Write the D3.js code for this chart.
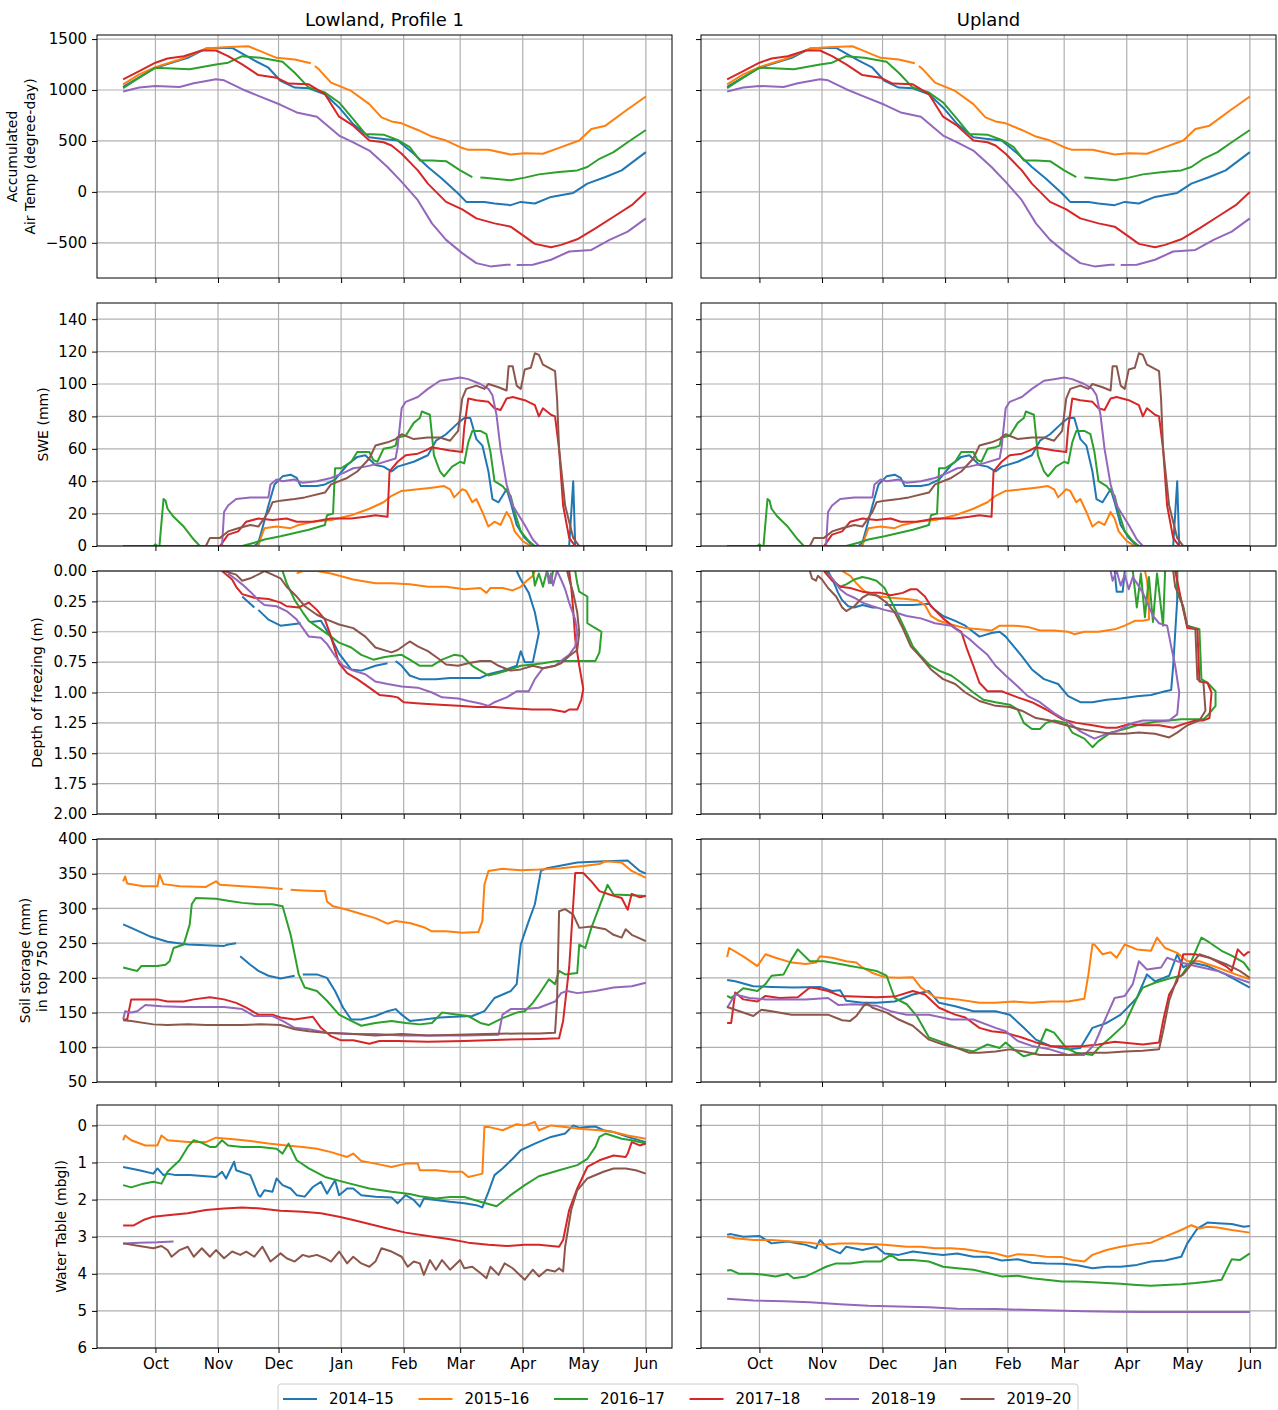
<!DOCTYPE html>
<meta charset="utf-8">
<script src="https://d3js.org/d3.v7.min.js"></script>
<style>
  body { margin: 0; background: #fff; }
  text { font-family: "DejaVu Sans", sans-serif; }
</style>
<div id="chart"></div>
<script>
// seasons and their colours (matplotlib tab10)
var seasons = ["2014–15", "2015–16", "2016–17", "2017–18", "2018–19", "2019–20"];
var colors = ["#1f77b4", "#ff7f0e", "#2ca02c", "#d62728", "#9467bd", "#8c564b"];
var columnTitles = ["Lowland, Profile 1", "Upland"];

// every series: [days after 15 Sep, value]; null value = gap in record
// accumulated air temperature (same at both sites)
var airT_1415 = [[0,1030],[16,1219],[32,1316],[41,1407],[54,1414],[65,1290],[72,1219],[78,1089],[85,1024],[92,1017],[100,959],[107,829],[114,666],[122,536],[129,520],[136,504],[144,374],[151,244],[158,130],[166,-16],[170,-98],[179,-98],[184,-114],[192,-130],[197,-98],[204,-114],[212,-49],[223,-10],[230,81],[239,146],[247,211],[259,390]];
var airT_1516 = [[0,1056],[8,1154],[16,1225],[28,1300],[41,1407],[50,1420],[62,1430],[68,1381],[76,1316],[85,1300],[93,1262],[94,null],[95,1235],[97,1203],[103,1073],[113,991],[122,861],[128,731],[133,692],[138,673],[146,608],[153,543],[160,504],[167,439],[171,413],[181,413],[192,367],[199,380],[208,374],[217,439],[226,504],[232,618],[239,650],[249,796],[259,936]];
var airT_1617 = [[0,1017],[8,1121],[16,1219],[33,1203],[46,1251],[52,1268],[59,1332],[68,1316],[79,1277],[85,1170],[92,1024],[100,975],[107,878],[114,715],[120,569],[129,562],[136,510],[142,439],[147,309],[153,309],[160,302],[167,211],[173,146],[174,null],[177,141],[179,140],[184,130],[192,114],[199,140],[206,172],[216,195],[225,211],[230,244],[236,325],[243,390],[250,487],[259,608]];
var airT_1718 = [[0,1105],[8,1186],[16,1268],[22,1310],[30,1332],[39,1388],[46,1388],[52,1332],[59,1251],[67,1147],[76,1121],[82,1063],[92,1056],[100,959],[107,738],[114,650],[122,504],[129,487],[133,455],[138,374],[146,211],[151,81],[160,-98],[168,-172],[175,-260],[184,-309],[192,-341],[199,-439],[204,-510],[212,-543],[217,-520],[225,-465],[234,-358],[243,-244],[252,-130],[259,0]];
var airT_1819 = [[0,985],[8,1024],[16,1040],[28,1030],[35,1066],[46,1105],[50,1095],[59,1008],[67,943],[78,855],[86,780],[96,738],[107,553],[114,487],[122,406],[131,244],[138,98],[146,-81],[153,-309],[160,-471],[168,-601],[175,-699],[182,-731],[190,-715],[192,-715],[193,null],[195,-717],[203,-715],[212,-666],[221,-585],[232,-569],[241,-471],[250,-390],[259,-260]];

// snow water equivalent (same at both sites)
var swe_1415 = [[0,0],[65,0],[67,2],[69,11],[72,25],[75,38],[79,43],[83,44],[86,42],[88,37],[96,37],[100,38],[105,41],[111,50],[116,55],[120,56],[125,50],[129,49],[133,46],[136,49],[144,52],[151,56],[155,65],[160,69],[166,76],[169,79],[172,79],[175,66],[178,62],[181,46],[183,29],[186,27],[188,31],[190,35],[192,27],[195,13],[199,5],[203,0],[221,0],[223,40],[224,0],[259,0]];
var swe_1516 = [[0,0],[67,0],[68,4],[70,11],[76,12],[83,11],[87,13],[94,15],[103,16],[113,19],[122,23],[129,27],[133,31],[138,34],[146,35],[153,36],[159,37],[162,35],[164,30],[168,35],[170,34],[173,27],[175,29],[178,21],[181,12],[184,15],[187,13],[190,21],[192,17],[194,9],[198,3],[202,0],[259,0]];
var swe_1617 = [[0,0],[15,0],[16,1],[17,0],[18,0],[20,29],[21,28],[22,23],[25,18],[30,12],[35,4],[38,0],[59,0],[65,2],[70,4],[78,6],[85,8],[92,10],[100,13],[101,19],[104,20],[105,48],[108,48],[113,52],[116,58],[122,58],[124,53],[126,52],[129,60],[133,61],[135,62],[136,67],[140,68],[144,76],[147,79],[148,83],[152,81],[154,56],[157,46],[159,43],[163,49],[167,52],[169,51],[171,64],[173,71],[177,71],[180,69],[182,58],[184,40],[188,37],[192,31],[194,21],[197,9],[201,3],[204,0],[259,0]];
var swe_1718 = [[0,0],[48,0],[52,7],[57,9],[61,15],[67,17],[74,16],[81,17],[86,15],[94,15],[103,17],[113,17],[120,18],[125,19],[131,18],[132,46],[136,52],[140,56],[146,57],[150,59],[153,61],[157,60],[162,59],[168,58],[169,73],[171,91],[175,90],[181,89],[184,85],[187,84],[190,91],[193,92],[199,90],[204,87],[206,80],[208,85],[212,81],[214,80],[216,60],[218,25],[221,5],[224,0],[259,0]];
var swe_1819 = [[0,0],[49,0],[50,21],[52,25],[56,29],[63,30],[72,30],[73,38],[76,41],[79,40],[85,41],[89,39],[96,40],[103,42],[109,45],[114,48],[120,49],[127,51],[135,54],[136,61],[138,85],[140,89],[146,92],[151,97],[157,102],[162,103],[167,104],[171,103],[177,100],[181,97],[183,93],[185,81],[187,60],[190,38],[193,25],[199,13],[203,4],[206,0],[259,0]];
var swe_1920 = [[0,0],[41,0],[43,5],[48,5],[52,9],[57,11],[63,13],[67,12],[72,21],[74,27],[78,28],[85,29],[90,30],[100,33],[103,38],[111,42],[116,46],[122,54],[125,62],[131,64],[135,66],[138,69],[144,66],[151,67],[157,67],[162,65],[166,71],[168,91],[170,97],[175,99],[179,97],[181,100],[186,98],[190,96],[191,111],[193,111],[195,99],[197,97],[199,109],[202,110],[204,119],[206,118],[208,112],[214,108],[215,91],[216,60],[219,25],[223,5],[226,0],[259,0]];

// depth of freezing, lowland (m)
var frostLow_1415 = [[59,0.21],[65,0.30],[66,null],[67,0.32],[72,0.40],[78,0.45],[83,0.44],[88,0.43],[90,null],[93,0.42],[98,0.41],[103,0.55],[107,0.68],[113,0.81],[118,0.82],[125,0.78],[131,0.76],[133,null],[135,0.74],[138,0.78],[142,0.86],[147,0.89],[155,0.89],[162,0.88],[169,0.88],[177,0.88],[181,0.85],[188,0.82],[195,0.78],[197,0.66],[199,0.75],[203,0.75],[206,0.51],[204,0.34],[201,0.18],[197,0.07],[195,0]];
var frostLow_1516 = [[86,0.02],[89,0],[96,0],[103,0.02],[114,0.07],[125,0.10],[133,0.10],[142,0.11],[151,0.13],[160,0.13],[169,0.15],[177,0.14],[180,0.18],[182,0.14],[188,0.14],[193,0.16],[197,0.13],[200,0.08],[203,0.04],[204,0]];
var frostLow_1617 = [[79,0],[81,0.10],[85,0.24],[89,0.34],[92,0.41],[98,0.48],[103,0.54],[107,0.59],[113,0.63],[118,0.69],[124,0.73],[129,0.71],[133,0.70],[138,0.69],[142,0.73],[147,0.78],[153,0.78],[158,0.73],[164,0.69],[168,0.70],[173,0.78],[179,0.84],[181,0.86],[186,0.84],[192,0.81],[197,0.78],[203,0.77],[208,0.76],[215,0.74],[225,0.74],[234,0.74],[236,0.67],[237,0.50],[234,0.47],[230,0.43],[230,0.21],[226,0.17],[225,0.10],[224,0],[224,null],[203,0],[204,0.12],[206,0.02],[208,0.13],[210,0],[212,0.10],[213,0]];
var frostLow_1718 = [[49,0],[54,0.07],[56,0.13],[59,0.19],[65,0.22],[72,0.23],[78,0.26],[81,0.29],[87,0.30],[92,0.26],[96,0.32],[100,0.40],[103,0.54],[107,0.76],[111,0.84],[116,0.89],[122,0.96],[127,1.02],[133,1.03],[136,1.04],[139,1.08],[147,1.09],[157,1.10],[166,1.11],[175,1.12],[184,1.12],[192,1.13],[203,1.14],[212,1.14],[219,1.16],[221,1.14],[225,1.14],[227,1.06],[228,0.97],[226,0.78],[224,0.56],[223,0.32],[222,0.13],[221,0]];
var frostLow_1819 = [[52,0.02],[56,0.07],[59,0.11],[63,0.17],[67,0.24],[70,0.28],[76,0.29],[81,0.33],[86,0.40],[92,0.54],[98,0.55],[101,0.60],[105,0.70],[109,0.78],[114,0.82],[120,0.85],[125,0.91],[131,0.93],[138,0.95],[146,0.96],[153,1.00],[158,1.04],[166,1.05],[171,1.07],[177,1.09],[181,1.11],[184,1.08],[190,1.04],[195,0.99],[201,0.99],[204,0.89],[208,0.80],[214,0.78],[217,0.74],[221,0.69],[224,0.62],[225,0.51],[224,0.40],[221,0.26],[219,0.15],[217,0.07],[215,0],[213,0.12],[212,0.02],[211,0.10],[210,0]];
var frostLow_1920 = [[50,0],[56,0.03],[59,0.08],[63,0.06],[68,0.02],[70,0],[74,0.03],[78,0.06],[81,0.13],[86,0.21],[90,0.29],[96,0.36],[101,0.40],[107,0.44],[114,0.47],[120,0.54],[125,0.63],[133,0.67],[136,0.65],[142,0.58],[146,0.62],[151,0.66],[157,0.73],[160,0.77],[166,0.78],[171,0.76],[177,0.74],[182,0.74],[186,0.78],[192,0.82],[197,0.81],[203,0.78],[208,0.80],[214,0.78],[217,0.76],[221,0.70],[225,0.65],[226,0.51],[225,0.34],[223,0.18],[221,0.07],[220,0]];

// depth of freezing, upland (m)
var frostUp_1415 = [[50,0],[53,0.10],[55,0.18],[57,0.24],[60,0.29],[63,0.30],[67,0.28],[72,0.30],[74,0.30],[75,null],[78,0.28],[85,0.28],[92,0.28],[100,0.27],[103,0.32],[107,0.37],[113,0.41],[118,0.45],[125,0.54],[131,0.51],[135,0.50],[138,0.54],[142,0.62],[146,0.70],[151,0.81],[157,0.89],[164,0.93],[169,1.03],[175,1.08],[181,1.08],[188,1.06],[195,1.05],[203,1.03],[210,1.02],[217,0.99],[220,0.98],[221,0.78],[222,0.51],[223,0.24],[223,0],[223,null],[192,0],[193,0.17],[196,0.17],[197,0]];
var frostUp_1516 = [[57,0],[61,0.04],[64,0.10],[67,0.15],[70,0.19],[76,0.21],[81,0.22],[89,0.23],[94,0.24],[98,0.28],[101,0.37],[105,0.41],[111,0.44],[118,0.47],[125,0.48],[131,0.49],[135,0.45],[142,0.45],[149,0.46],[155,0.49],[162,0.49],[169,0.50],[172,0.52],[177,0.50],[184,0.50],[192,0.48],[197,0.45],[202,0.41],[206,0.41],[209,0.40],[209,0.24],[208,0.07],[207,0]];
var frostUp_1617 = [[49,0],[52,0.07],[56,0.13],[59,0.11],[63,0.07],[67,0.05],[70,0.06],[74,0.08],[78,0.14],[81,0.24],[85,0.37],[89,0.51],[92,0.62],[96,0.70],[100,0.77],[105,0.82],[111,0.86],[116,0.92],[122,1.00],[127,1.06],[133,1.08],[140,1.10],[144,1.14],[147,1.25],[151,1.30],[155,1.30],[158,1.25],[162,1.23],[168,1.25],[171,1.33],[177,1.38],[181,1.45],[184,1.40],[190,1.33],[197,1.30],[203,1.27],[212,1.24],[219,1.23],[225,1.22],[230,1.22],[236,1.22],[238,1.19],[242,1.11],[242,0.99],[238,0.92],[235,0.89],[234,0.48],[228,0.45],[226,0.29],[223,0.18],[223,0],[223,null],[201,0],[203,0.30],[205,0.02],[207,0.38],[209,0.05],[211,0.42],[213,0.02],[216,0.45],[217,0]];
var frostUp_1718 = [[48,0],[52,0.08],[56,0.13],[61,0.14],[67,0.17],[72,0.18],[76,0.18],[81,0.20],[87,0.18],[91,0.15],[94,0.15],[98,0.21],[101,0.29],[107,0.39],[113,0.47],[116,0.50],[119,0.65],[122,0.78],[125,0.92],[129,0.99],[136,0.99],[144,1.04],[151,1.08],[158,1.14],[166,1.22],[173,1.25],[181,1.27],[188,1.29],[193,1.29],[199,1.26],[206,1.27],[214,1.27],[221,1.29],[226,1.26],[232,1.23],[236,1.23],[239,1.21],[240,1.00],[238,0.92],[234,0.91],[233,0.48],[228,0.47],[225,0.24],[222,0]];
var frostUp_1819 = [[50,0.02],[53,0.08],[56,0.15],[59,0.19],[63,0.22],[67,0.26],[72,0.29],[78,0.32],[83,0.34],[89,0.37],[96,0.39],[103,0.43],[111,0.45],[116,0.51],[120,0.56],[124,0.62],[129,0.69],[133,0.78],[138,0.86],[144,0.95],[149,1.03],[155,1.08],[162,1.17],[168,1.23],[175,1.32],[182,1.38],[188,1.34],[193,1.32],[201,1.25],[206,1.23],[214,1.23],[219,1.23],[223,1.18],[224,1.00],[222,0.78],[220,0.62],[218,0.45],[214,0.43],[211,0.37],[206,0.18],[203,0.10],[201,0.05],[199,0.15],[197,0.03],[195,0.12],[193,0],[191,0.08],[190,0]];
var frostUp_1920 = [[41,0],[42,0.06],[44,0.08],[45,0.04],[47,0.07],[50,0.14],[54,0.21],[57,0.30],[59,0.33],[63,0.29],[67,0.22],[70,0.19],[74,0.20],[79,0.26],[83,0.34],[87,0.47],[91,0.62],[96,0.71],[101,0.81],[107,0.89],[113,0.93],[118,1.00],[125,1.07],[133,1.11],[140,1.12],[146,1.15],[153,1.21],[160,1.23],[168,1.27],[175,1.30],[182,1.32],[190,1.34],[197,1.34],[204,1.33],[212,1.34],[219,1.37],[223,1.33],[228,1.27],[234,1.23],[237,1.15],[236,0.92],[233,0.89],[232,0.48],[228,0.45],[225,0.24],[222,0.13],[221,0]];

// soil storage in top 750 mm, lowland (mm)
var soilLow_1415 = [[0,277],[4,272],[13,260],[22,252],[32,248],[41,247],[50,246],[52,248],[56,250],[57,null],[58,231],[63,219],[67,210],[72,203],[78,199],[85,203],[87,null],[89,205],[96,205],[101,200],[105,181],[109,157],[113,140],[118,140],[125,145],[131,152],[135,155],[138,147],[142,138],[149,140],[157,143],[164,144],[173,145],[179,152],[184,171],[192,181],[195,191],[197,248],[201,282],[204,306],[207,354],[210,358],[225,366],[239,368],[250,369],[256,354],[259,350]];
var soilLow_1516 = [[0,339],[1,346],[2,336],[10,332],[17,332],[18,349],[20,335],[28,332],[41,331],[46,339],[48,334],[59,332],[70,330],[79,328],[81,null],[83,327],[89,326],[96,325],[100,325],[101,310],[104,303],[111,298],[118,292],[125,286],[131,278],[135,282],[142,279],[149,273],[153,267],[160,267],[168,265],[176,266],[178,282],[179,334],[181,354],[188,357],[197,355],[206,356],[217,358],[228,361],[236,364],[239,368],[247,366],[252,354],[259,344]];
var soilLow_1617 = [[0,215],[4,212],[7,210],[9,217],[17,217],[21,219],[23,224],[25,243],[30,248],[33,277],[34,306],[36,315],[46,314],[52,311],[59,308],[67,306],[74,306],[79,303],[83,262],[87,205],[90,186],[96,181],[101,167],[107,147],[113,138],[118,131],[125,135],[133,138],[140,135],[147,133],[153,135],[158,150],[166,147],[171,145],[177,135],[181,132],[188,142],[195,150],[199,152],[203,164],[206,176],[211,198],[214,191],[216,210],[219,205],[225,207],[226,248],[229,243],[232,272],[236,303],[240,334],[243,320],[252,319],[259,318]];
var soilLow_1718 = [[0,140],[2,140],[4,169],[17,169],[22,166],[30,166],[35,169],[43,172],[50,169],[56,164],[61,157],[67,147],[74,147],[78,143],[85,140],[94,144],[98,128],[103,116],[108,110],[114,110],[122,105],[127,109],[136,109],[151,108],[169,109],[188,111],[206,112],[216,113],[218,138],[221,215],[224,351],[228,351],[232,339],[236,325],[241,320],[247,315],[250,298],[252,321],[256,316],[259,318]];
var soilLow_1819 = [[0,140],[1,152],[4,150],[7,152],[11,161],[19,159],[30,158],[41,158],[50,158],[59,155],[65,145],[74,145],[79,138],[85,128],[92,126],[101,121],[114,119],[125,119],[138,117],[151,117],[169,117],[186,118],[188,147],[192,155],[199,155],[206,157],[214,166],[217,178],[220,181],[225,178],[234,181],[243,186],[252,188],[259,193]];
var soilLow_1920 = [[0,139],[4,138],[15,133],[22,132],[32,133],[41,132],[50,132],[59,132],[68,133],[78,132],[85,126],[92,123],[100,121],[114,119],[125,117],[138,119],[151,117],[166,118],[179,119],[197,120],[206,120],[214,121],[215,167],[216,296],[219,299],[223,291],[226,272],[232,274],[239,270],[243,262],[247,258],[249,270],[252,262],[259,253]];

// soil storage in top 750 mm, upland (mm)
var soilUp_1415 = [[0,197],[4,195],[13,188],[22,187],[33,186],[46,187],[52,181],[56,182],[59,167],[67,164],[74,164],[83,166],[92,176],[100,181],[105,164],[113,159],[122,152],[133,152],[140,147],[147,128],[153,111],[160,102],[169,97],[175,99],[181,128],[188,135],[195,147],[203,171],[208,205],[212,195],[219,203],[223,234],[226,215],[230,222],[238,217],[247,205],[259,186]];
var soilUp_1516 = [[0,230],[1,243],[8,231],[15,217],[19,234],[24,229],[32,222],[39,220],[44,222],[46,231],[52,229],[59,224],[64,222],[67,215],[72,207],[78,201],[85,200],[92,201],[96,186],[103,172],[114,169],[125,164],[133,164],[142,166],[151,164],[160,166],[169,166],[177,170],[179,205],[181,248],[182,248],[186,234],[190,237],[193,229],[197,248],[203,241],[210,239],[213,258],[217,243],[223,236],[228,224],[234,224],[243,215],[252,205],[259,198]];
var soilUp_1617 = [[0,174],[2,171],[8,185],[15,181],[19,191],[22,203],[28,205],[32,227],[35,241],[41,224],[48,224],[56,220],[61,217],[67,214],[74,210],[79,203],[83,171],[89,162],[94,145],[100,114],[107,107],[114,99],[122,94],[129,104],[135,99],[138,107],[142,97],[147,87],[153,92],[158,126],[162,121],[168,99],[173,92],[181,89],[184,99],[190,114],[197,133],[203,171],[206,186],[212,193],[219,199],[225,203],[230,224],[235,258],[239,251],[245,239],[250,232],[256,222],[259,210]];
var soilUp_1718 = [[0,135],[2,135],[4,179],[8,169],[15,166],[19,174],[26,171],[35,172],[41,186],[44,185],[50,181],[56,174],[63,173],[74,172],[83,173],[92,181],[98,176],[105,157],[113,147],[118,143],[125,128],[131,123],[138,121],[146,114],[153,107],[160,102],[169,101],[177,102],[184,104],[192,108],[206,104],[214,107],[216,138],[219,176],[223,195],[226,234],[232,234],[239,229],[247,217],[250,210],[253,241],[256,232],[258,237],[259,237]];
var soilUp_1819 = [[0,157],[4,176],[11,171],[19,169],[28,169],[39,169],[50,171],[55,161],[63,162],[74,160],[81,152],[89,147],[100,147],[111,140],[122,140],[133,128],[138,123],[144,109],[151,102],[160,97],[169,89],[177,89],[182,104],[188,145],[192,171],[197,174],[201,191],[204,224],[208,212],[215,215],[218,229],[225,222],[232,217],[243,210],[252,200],[259,193]];
var soilUp_1920 = [[0,158],[4,154],[13,145],[17,154],[22,152],[32,147],[41,147],[50,147],[57,139],[61,138],[64,145],[67,157],[69,164],[72,157],[79,150],[85,140],[92,131],[100,111],[107,104],[114,99],[120,92],[125,92],[133,94],[140,97],[147,94],[155,89],[162,89],[169,89],[179,92],[188,92],[197,94],[206,95],[214,97],[216,123],[219,167],[223,200],[226,205],[234,234],[239,229],[247,220],[254,210],[259,200]];

// water table, lowland (m below ground)
var wtLow_1415 = [[0,1.12],[8,1.21],[15,1.30],[17,1.16],[20,1.34],[22,1.30],[26,1.34],[33,1.34],[41,1.37],[46,1.39],[49,1.25],[51,1.43],[55,0.98],[56,1.21],[63,1.34],[67,1.88],[68,1.92],[70,1.75],[74,1.79],[76,1.43],[79,1.61],[83,1.70],[86,1.88],[90,1.92],[94,1.66],[98,1.52],[101,1.84],[105,1.48],[107,1.88],[111,1.70],[114,1.70],[118,1.88],[125,1.92],[133,1.94],[136,2.10],[140,1.88],[144,2.01],[147,2.19],[149,1.97],[155,2.01],[162,2.06],[169,2.10],[175,2.15],[178,2.21],[181,1.79],[184,1.34],[188,1.16],[193,0.90],[197,0.67],[204,0.49],[212,0.31],[219,0.22],[223,0.0],[226,0.06],[230,0.04],[234,0.03],[238,0.13],[243,0.18],[250,0.31],[259,0.45]];
var wtLow_1516 = [[0,0.40],[1,0.27],[4,0.40],[11,0.54],[17,0.54],[19,0.27],[22,0.40],[32,0.45],[41,0.45],[46,0.33],[56,0.38],[63,0.42],[72,0.49],[81,0.54],[89,0.58],[96,0.63],[103,0.72],[111,0.85],[114,0.76],[118,0.96],[125,1.03],[133,1.12],[140,1.03],[146,1.03],[147,1.21],[155,1.21],[162,1.25],[168,1.25],[171,1.39],[175,1.34],[178,1.30],[179,0.04],[181,0.04],[188,0.13],[195,-0.03],[199,0.0],[204,-0.09],[206,0.13],[212,0.0],[219,0.04],[226,0.09],[236,0.13],[243,0.18],[250,0.27],[259,0.36]];
var wtLow_1617 = [[0,1.61],[4,1.67],[10,1.57],[15,1.52],[19,1.57],[22,1.25],[28,0.94],[32,0.58],[35,0.40],[39,0.47],[43,0.58],[46,0.58],[49,0.40],[52,0.54],[59,0.58],[68,0.58],[76,0.63],[79,0.76],[82,0.49],[86,0.94],[92,1.16],[100,1.39],[111,1.55],[122,1.70],[133,1.79],[142,1.85],[147,1.91],[155,1.97],[162,1.93],[169,1.93],[177,2.06],[185,2.18],[192,1.88],[199,1.61],[206,1.37],[216,1.21],[225,1.07],[230,0.90],[234,0.58],[236,0.31],[239,0.22],[247,0.36],[252,0.40],[259,0.49]];
var wtLow_1718 = [[0,2.70],[5,2.70],[10,2.55],[15,2.46],[22,2.42],[32,2.37],[41,2.28],[50,2.24],[59,2.21],[68,2.24],[78,2.30],[89,2.33],[98,2.37],[107,2.46],[114,2.55],[122,2.66],[131,2.78],[140,2.89],[151,2.98],[162,3.07],[171,3.16],[181,3.22],[190,3.25],[199,3.22],[206,3.22],[216,3.27],[218,3.09],[221,2.28],[225,1.70],[230,1.12],[236,0.94],[243,0.81],[249,0.85],[250,0.76],[252,0.45],[256,0.54],[259,0.49]];
var wtLow_1819 = [[0,3.18],[8,3.16],[17,3.15],[25,3.13]];
var wtLow_1920 = [[0,3.18],[8,3.25],[15,3.31],[19,3.25],[22,3.36],[24,3.54],[28,3.36],[32,3.27],[35,3.54],[39,3.31],[43,3.54],[46,3.36],[50,3.58],[54,3.40],[58,3.49],[61,3.40],[65,3.54],[69,3.27],[73,3.67],[78,3.45],[81,3.58],[85,3.67],[89,3.49],[92,3.54],[96,3.49],[100,3.58],[103,3.67],[107,3.40],[111,3.72],[114,3.54],[118,3.72],[122,3.81],[125,3.67],[128,3.31],[133,3.40],[138,3.54],[141,3.81],[144,3.67],[147,3.72],[149,4.03],[152,3.63],[155,3.89],[158,3.63],[162,3.89],[167,3.63],[169,3.85],[173,3.81],[177,3.98],[180,4.12],[182,3.81],[186,4.03],[189,3.72],[193,3.85],[199,4.16],[203,3.89],[206,4.07],[210,3.89],[214,3.94],[216,3.85],[218,3.94],[219,3.27],[222,2.28],[225,1.75],[230,1.43],[238,1.25],[243,1.16],[249,1.16],[254,1.21],[259,1.30]];

// water table, upland (m below ground)
var wtUp_1415 = [[0,2.95],[2,2.93],[8,3.0],[16,2.98],[22,3.18],[30,3.13],[39,3.22],[44,3.31],[46,3.09],[50,3.31],[56,3.45],[59,3.27],[67,3.36],[74,3.27],[78,3.45],[85,3.49],[92,3.40],[100,3.45],[107,3.49],[114,3.45],[122,3.54],[129,3.54],[136,3.64],[144,3.61],[151,3.70],[158,3.72],[166,3.73],[173,3.76],[181,3.85],[188,3.81],[195,3.81],[203,3.76],[210,3.67],[217,3.64],[225,3.54],[228,3.18],[233,2.78],[238,2.62],[243,2.64],[250,2.66],[256,2.73],[259,2.71]];
var wtUp_1516 = [[0,3.0],[4,3.04],[13,3.09],[22,3.09],[32,3.13],[41,3.16],[48,3.22],[56,3.18],[63,3.18],[70,3.20],[78,3.22],[89,3.27],[96,3.27],[103,3.31],[111,3.31],[118,3.34],[125,3.40],[133,3.45],[139,3.54],[144,3.47],[151,3.49],[158,3.54],[166,3.55],[171,3.63],[177,3.67],[181,3.49],[188,3.36],[195,3.27],[203,3.20],[210,3.16],[217,3.0],[225,2.82],[230,2.69],[234,2.78],[238,2.73],[243,2.75],[250,2.82],[259,2.89]];
var wtUp_1617 = [[0,3.91],[2,3.90],[6,4.0],[13,4.0],[19,4.03],[24,4.07],[30,4.0],[33,4.12],[39,4.07],[44,3.94],[49,3.81],[54,3.72],[61,3.72],[68,3.67],[76,3.67],[81,3.49],[85,3.63],[92,3.63],[100,3.67],[107,3.81],[114,3.85],[122,3.89],[129,3.98],[136,4.07],[144,4.05],[151,4.12],[158,4.16],[166,4.21],[173,4.21],[181,4.23],[188,4.25],[195,4.27],[203,4.30],[210,4.32],[217,4.30],[225,4.28],[232,4.25],[239,4.21],[245,4.16],[250,3.61],[254,3.63],[259,3.45]];
var wtUp_1819 = [[0,4.67],[13,4.72],[28,4.74],[41,4.77],[56,4.82],[70,4.86],[85,4.88],[100,4.90],[114,4.94],[133,4.95],[147,4.97],[162,4.99],[177,5.01],[192,5.02],[206,5.03],[225,5.03],[243,5.03],[259,5.03]];

// y tick labels per row
var airTicks = [-500, 0, 500, 1000, 1500];
var sweTicks = [0, 20, 40, 60, 80, 100, 120, 140];
var frostTicks = [0, 0.25, 0.5, 0.75, 1, 1.25, 1.5, 1.75, 2];
var soilTicks = [50, 100, 150, 200, 250, 300, 350, 400];
var wtTicks = [0, 1, 2, 3, 4, 5, 6];

var rows = [
  {label: ["Accumulated", "Air Temp (degree-day)"], labelX: [12, 30], domain: [-845, 1540], ticks: airTicks,
   fmt: function(d){ return d < 0 ? "\u2212" + Math.abs(d) : d; },
   series: [[airT_1415, airT_1516, airT_1617, airT_1718, airT_1819, null],
            [airT_1415, airT_1516, airT_1617, airT_1718, airT_1819, null]]},
  {label: ["SWE (mm)"], labelX: [43], domain: [0, 150], ticks: sweTicks, fmt: d3.format("d"),
   series: [[swe_1415, swe_1516, swe_1617, swe_1718, swe_1819, swe_1920],
            [swe_1415, swe_1516, swe_1617, swe_1718, swe_1819, swe_1920]]},
  {label: ["Depth of freezing (m)"], labelX: [37], domain: [2, 0], ticks: frostTicks, fmt: d3.format(".2f"),
   series: [[frostLow_1415, frostLow_1516, frostLow_1617, frostLow_1718, frostLow_1819, frostLow_1920],
            [frostUp_1415, frostUp_1516, frostUp_1617, frostUp_1718, frostUp_1819, frostUp_1920]]},
  {label: ["Soil storage (mm)", "in top 750 mm"], labelX: [25, 42], domain: [50, 400], ticks: soilTicks, fmt: d3.format("d"),
   series: [[soilLow_1415, soilLow_1516, soilLow_1617, soilLow_1718, soilLow_1819, soilLow_1920],
            [soilUp_1415, soilUp_1516, soilUp_1617, soilUp_1718, soilUp_1819, soilUp_1920]]},
  {label: ["Water Table (mbgl)"], labelX: [61], domain: [6, -0.55], ticks: wtTicks, fmt: d3.format("d"),
   series: [[wtLow_1415, wtLow_1516, wtLow_1617, wtLow_1718, wtLow_1819, wtLow_1920],
            [wtUp_1415, wtUp_1516, wtUp_1617, null, wtUp_1819, null]]}
];

// layout
var W = 1278, H = 1410;
var colX = [97, 701], panelW = 575;
var rowTop = [35, 303, 571, 839, 1105], panelH = 243;

var svg = d3.select("#chart").append("svg")
  .attr("width", W).attr("height", H);

// season axis: day 0 = 15 Sep
var base = Date.UTC(2014, 8, 15);
function toDate(day) { return new Date(base + day * 864e5); }
var monthTicks = d3.utcMonth.range(new Date(Date.UTC(2014, 9, 1)), new Date(Date.UTC(2015, 5, 2)));

rows.forEach(function(row, r) {
  [0, 1].forEach(function(c) {
    var x = d3.scaleUtc().domain([toDate(-12.95), toDate(271.95)]).range([0, panelW]);
    var y = d3.scaleLinear().domain(row.domain).range([panelH, 0]);
    var g = svg.append("g").attr("transform", "translate(" + colX[c] + "," + rowTop[r] + ")");
    var clipId = "clip" + r + c;
    g.append("clipPath").attr("id", clipId).append("rect").attr("width", panelW).attr("height", panelH);

    // grid
    g.append("g").selectAll("line.vx").data(monthTicks).enter().append("line")
      .attr("x1", function(d){ return x(d); }).attr("x2", function(d){ return x(d); })
      .attr("y1", 0).attr("y2", panelH)
      .attr("stroke", "#b0b0b0").attr("stroke-width", 1.2);
    g.append("g").selectAll("line.hy").data(row.ticks).enter().append("line")
      .attr("x1", 0).attr("x2", panelW)
      .attr("y1", function(d){ return y(d); }).attr("y2", function(d){ return y(d); })
      .attr("stroke", "#b0b0b0").attr("stroke-width", 1.2);

    // series
    var line = d3.line()
      .defined(function(d){ return d[1] != null; })
      .x(function(d){ return x(toDate(d[0])); })
      .y(function(d){ return y(d[1]); });
    var lines = g.append("g").attr("clip-path", "url(#" + clipId + ")");
    row.series[c].forEach(function(s, i) {
      if (!s) return;
      lines.append("path").datum(s)
        .attr("d", line)
        .attr("fill", "none")
        .attr("stroke", colors[i])
        .attr("stroke-width", 2)
        .attr("stroke-linejoin", "round");
    });

    // axes
    var xAxis = d3.axisBottom(x).tickValues(monthTicks).tickSize(5).tickPadding(5)
      .tickFormat(r === rows.length - 1 ? d3.utcFormat("%b") : "");
    var gx = g.append("g").attr("transform", "translate(0," + panelH + ")").call(xAxis);
    var yAxis = d3.axisLeft(y).tickValues(row.ticks).tickSize(5).tickPadding(5)
      .tickFormat(c === 0 ? row.fmt : "");
    var gy = g.append("g").call(yAxis);
    [gx, gy].forEach(function(a) {
      a.select(".domain").remove();
      a.selectAll("text").style("font-size", "15px").attr("fill", "#000");
      a.selectAll("line").attr("stroke", "#000");
    });

    // frame
    g.append("rect").attr("width", panelW).attr("height", panelH)
      .attr("fill", "none").attr("stroke", "#000").attr("stroke-width", 1);

    if (r === 0) {
      svg.append("text")
        .attr("x", colX[c] + panelW / 2).attr("y", 26)
        .attr("text-anchor", "middle").style("font-size", "18px")
        .text(columnTitles[c]);
    }
  });

  // y label (left column only)
  row.label.forEach(function(t, k) {
    svg.append("text")
      .attr("transform", "translate(" + row.labelX[k] + "," + (rowTop[r] + panelH / 2) + ") rotate(-90)")
      .attr("text-anchor", "middle")
      .attr("dominant-baseline", "central")
      .style("font-size", "14px")
      .text(t);
  });
});

// legend
var legend = svg.append("g");
legend.append("rect")
  .attr("x", 278).attr("y", 1384).attr("width", 800).attr("height", 34)
  .attr("rx", 3).attr("fill", "#fff").attr("stroke", "#cccccc");
var item = legend.selectAll("g.item").data(seasons).enter().append("g")
  .attr("transform", function(d, i){ return "translate(" + (283 + i * 135.5) + ",1399)"; });
item.append("line").attr("x1", 0).attr("x2", 34)
  .attr("stroke", function(d, i){ return colors[i]; }).attr("stroke-width", 2);
item.append("text").attr("x", 46).attr("dy", "0.35em")
  .style("font-size", "15px").text(function(d){ return d; });
</script>
